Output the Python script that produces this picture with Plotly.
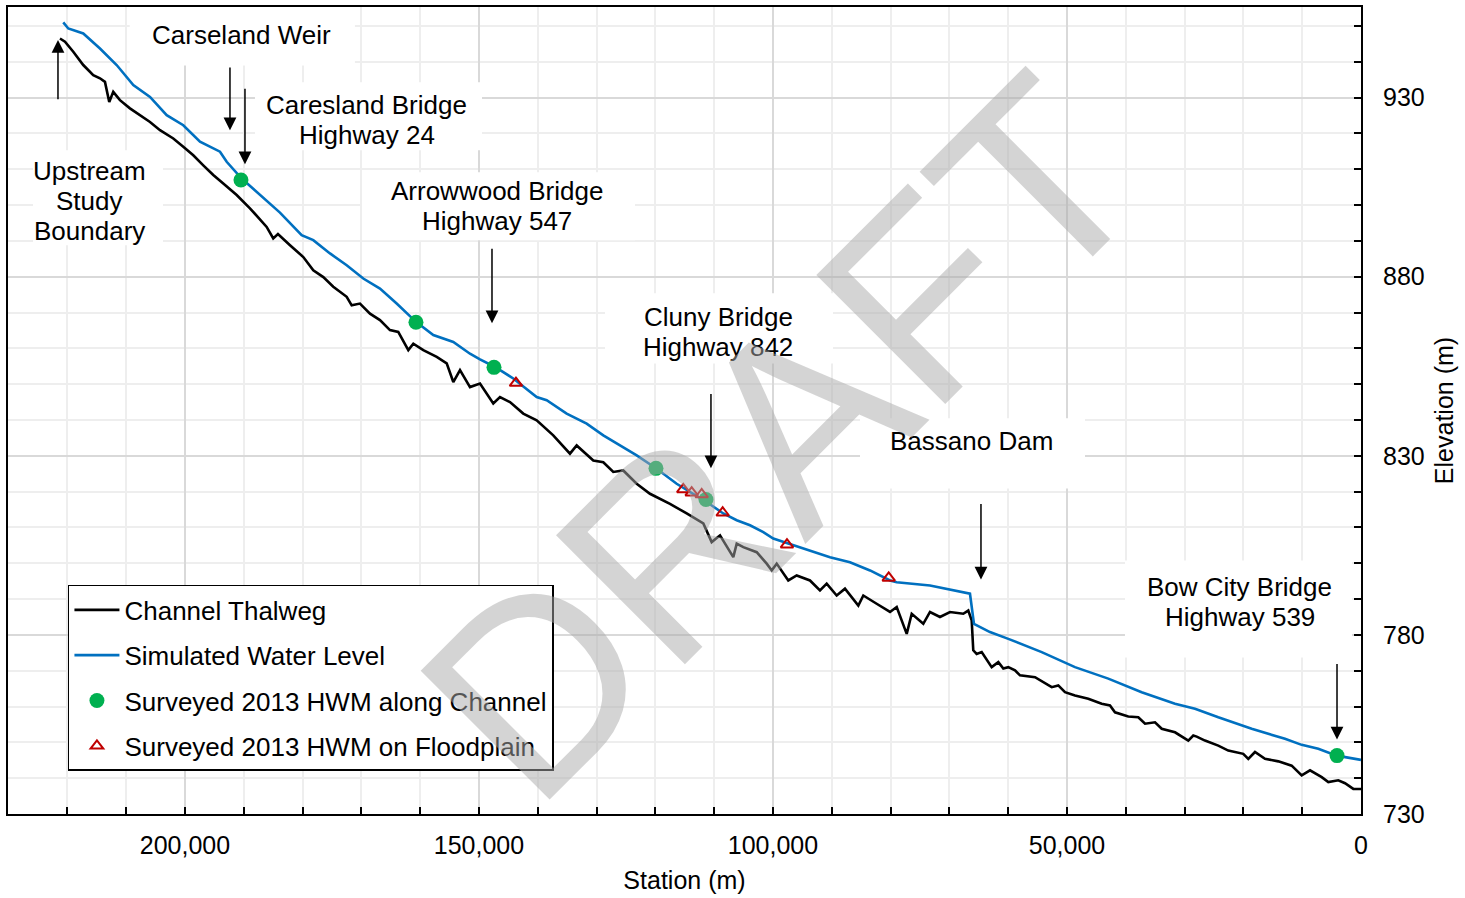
import plotly.graph_objects as go

# ---------------- data ----------------
# Simulated water level profile (station m, elevation m)
wl_station = [220700, 219850, 217300, 214460, 211620, 208790, 205950, 203110, 200290, 197450,
              194050, 192910, 190360, 187810, 183850, 180160, 178180, 175340, 172500, 169680,
              166840, 164000, 160720, 157770, 154370, 151530, 149830, 147280, 144170, 140190,
              138490, 135090, 131690, 128860, 126020, 123180, 119780, 116380, 111280, 108450,
              106170, 103910, 101650, 99950, 97400, 93710, 90310, 86910, 83500, 80100,
              78960, 73300, 68760, 66500, 65820, 63100, 59980, 54300, 48640, 42980,
              37300, 31630, 28230, 24270, 18590, 12930, 10090, 7260, 4130, 0]
wl_elev = [951.0, 949.3, 947.9, 943.7, 939.1, 933.5, 930.2, 925.1, 922.3, 917.7,
           914.9, 912.1, 907.4, 903.7, 897.9, 891.6, 890.2, 886.5, 883.2, 879.5,
           876.7, 872.5, 867.4, 863.7, 861.8, 858.5, 856.9, 854.8, 851.6, 846.4,
           845.5, 841.8, 839.0, 835.7, 832.9, 830.1, 826.4, 822.2, 817.1, 813.9,
           812.0, 810.6, 808.7, 806.9, 805.5, 803.6, 801.7, 800.3, 798.0, 795.2,
           794.7, 793.8, 792.4, 791.5, 783.1, 780.8, 778.9, 775.2, 771.0, 767.8,
           764.0, 760.8, 759.4, 757.0, 753.8, 751.0, 749.3, 748.2, 746.3, 745.1]

# Channel thalweg profile (station m, elevation m)
tw_station = [221260, 220410, 219000, 217300, 215600, 214460, 213610, 212880, 212200, 211060,
              209360, 207650, 205950, 204250, 201990, 200290, 198590, 196890, 195190, 193490,
              191210, 188950, 186110, 184990, 184190, 182140, 179880, 178180, 176480, 174780,
              172500, 171650, 170240, 168540, 166840, 165140, 163730, 162020, 161170, 159470,
              157190, 155490, 154370, 153230, 151530, 149830, 147570, 146430, 144730, 142470,
              140190, 137370, 134530, 133390, 130560, 128860, 127160, 125460, 123180, 120920,
              117520, 114680, 111850, 110430, 109010, 106750, 106170, 105050, 102770, 101070,
              100220, 99370, 97400, 95970, 93710, 92010, 90870, 89170, 87760, 85490,
              84640, 82370, 80100, 78960, 77260, 76410, 74440, 73300, 71600, 69900,
              67640, 66790, 66210, 65940, 65360, 64510, 62810, 61680, 60830, 59980,
              58840, 57990, 55440, 52600, 51480, 50340, 48640, 46380, 44100, 42690,
              41840, 39580, 37870, 36730, 35030, 33890, 31630, 29370, 28520, 27940,
              26530, 24270, 22570, 20020, 19170, 18030, 16330, 14060, 11790, 10090,
              8670, 6680, 5560, 3860, 2720, 1310, 0]
tw_elev = [946.5, 945.6, 942.8, 939.1, 936.3, 935.4, 934.4, 928.8, 931.6, 929.3,
           927.0, 925.1, 923.2, 920.9, 918.6, 916.3, 913.9, 911.1, 908.4, 906.0,
           902.8, 899.1, 893.9, 890.7, 891.9, 888.8, 885.5, 881.8, 879.9, 877.2,
           874.4, 872.0, 872.5, 869.7, 867.9, 865.1, 864.6, 859.5, 861.3, 859.5,
           857.6, 855.8, 850.6, 853.9, 849.2, 850.2, 844.6, 846.4, 845.0, 841.8,
           839.9, 835.7, 830.6, 832.9, 828.7, 828.2, 825.5, 825.9, 822.2, 819.4,
           816.6, 813.9, 811.1, 805.9, 807.8, 801.7, 805.5, 804.5, 803.1, 799.9,
           798.0, 799.9, 795.2, 796.6, 795.2, 792.4, 794.3, 791.0, 792.9, 788.2,
           791.0, 788.7, 786.4, 787.8, 780.3, 785.9, 783.1, 786.4, 785.0, 786.4,
           785.9, 786.8, 784.1, 775.7, 774.7, 775.2, 771.0, 772.4, 770.6, 771.0,
           770.1, 768.7, 768.2, 765.4, 765.9, 764.0, 763.1, 762.2, 760.8, 760.3,
           758.4, 757.2, 757.0, 755.2, 755.6, 753.8, 752.8, 750.5, 751.9, 751.6,
           750.5, 749.1, 747.7, 746.8, 745.4, 747.3, 745.4, 744.7, 743.5, 740.8,
           742.2, 740.3, 738.9, 739.4, 738.6, 737.0, 737.0]

# Surveyed 2013 high water marks
hwm_channel_station = [190480, 160720, 147450, 119900, 111400, 4080]
hwm_channel_elev = [907.0, 867.3, 854.7, 826.5, 817.8, 746.3]

hwm_flood_station = [143710, 115260, 113830, 112130, 108560, 97620, 80320]
hwm_flood_elev = [850.3, 820.6, 819.7, 819.2, 814.1, 805.2, 795.9]

# Structure labels: (text lines, station, elevation of label centre)
site_labels = [
    (["Carseland Weir"], 190310, 947.5),
    (["Caresland Bridge", "Highway 24"], 169050, 923.7),
    (["Upstream", "Study", "Boundary"], 216160, 901.1),
    (["Arrowwood Bridge", "Highway 547"], 146940, 899.7),
    (["Cluny Bridge", "Highway 842"], 109350, 864.5),
    (["Bassano Dam"], 66160, 834.1),
    (["Bow City Bridge", "Highway 539"], 20580, 789.1),
]
# white backing panels behind labels: (station0, station1, elev0, elev1)
label_panels = [
    (209400, 171100, 939.0, 955.3),
    (188100, 149490, 915.3, 934.3),
    (225850, 203740, 888.8, 915.3),
    (169900, 123470, 890.2, 909.2),
    (128570, 89800, 855.8, 875.4),
    (85200, 46940, 820.9, 840.5),
    (40140, 1530, 773.7, 800.8),
]
# Pointer arrows: (station, head elevation, tail elevation)
pointers = [
    (221600, 946.1, 929.1),
    (192350, 920.9, 938.8),
    (189800, 911.4, 932.9),
    (147790, 867.0, 888.2),
    (110550, 826.5, 847.7),
    (64630, 795.5, 817.0),
    (4080, 750.8, 772.3),
]

FONT = "Liberation Sans, Arial, sans-serif"
FS = 25          # tick / axis title size
FS_LABEL = 26    # annotation and legend size
LINE_STEP = 8.4  # elevation gap between label lines (m)

fig = go.Figure()
fig.add_trace(go.Scatter(x=tw_station, y=tw_elev, mode="lines", name="Channel Thalweg",
                         line=dict(color="black", width=2.6), legendgroup="a"))
fig.add_trace(go.Scatter(x=wl_station, y=wl_elev, mode="lines", name="Simulated Water Level",
                         line=dict(color="#0070C0", width=2.6), legendgroup="b"))
fig.add_trace(go.Scatter(x=hwm_channel_station, y=hwm_channel_elev, mode="markers",
                         name="Surveyed 2013 HWM along Channel",
                         marker=dict(symbol="circle", size=15, color="#00B050"), legendgroup="c"))
fig.add_trace(go.Scatter(x=hwm_flood_station, y=hwm_flood_elev, mode="markers",
                         name="Surveyed 2013 HWM on Floodplain",
                         marker=dict(symbol="triangle-up-open", size=11, color="#C00000",
                                     line=dict(width=2, color="#C00000")), legendgroup="d"))

shapes = []
for x0, x1, y0, y1 in label_panels:
    shapes.append(dict(type="rect", xref="x", yref="y", x0=x0, x1=x1, y0=y0, y1=y1,
                       fillcolor="white", line=dict(width=0), layer="between"))

annotations = []
for lines, sx, sy in site_labels:
    n = len(lines)
    for i, line in enumerate(lines):
        annotations.append(dict(x=sx, y=sy + ((n - 1) / 2 - i) * LINE_STEP,
                                xref="x", yref="y", text=line, showarrow=False,
                                font=dict(family=FONT, size=FS_LABEL, color="black"),
                                xanchor="center", yanchor="middle", align="center"))
for sx, head, tail in pointers:
    annotations.append(dict(x=sx, y=head, ax=sx, ay=tail, xref="x", yref="y",
                            axref="x", ayref="y", text="", showarrow=True,
                            arrowhead=2, arrowsize=1.7, arrowwidth=1.5, arrowcolor="black",
                            standoff=0))
# watermark
annotations.append(dict(x=0.5714, y=0.4659, xref="paper", yref="paper", text="DRAFT",
                        showarrow=False, textangle=-45,
                        font=dict(family=FONT, size=265, color="rgba(170,170,170,0.5)"),
                        xanchor="center", yanchor="middle"))

fig.update_layout(
    width=1465, height=898,
    margin=dict(l=8, r=104, t=7, b=84),
    paper_bgcolor="white", plot_bgcolor="white",
    font=dict(family=FONT, size=FS, color="black"),
    shapes=shapes, annotations=annotations,
    legend=dict(x=0.0443, y=0.2838, xanchor="left", yanchor="top",
                bgcolor="white", bordercolor="black", borderwidth=1.5,
                font=dict(family=FONT, size=FS_LABEL, color="black"),
                traceorder="grouped", tracegroupgap=8.5, itemwidth=45),
    xaxis=dict(range=[230100, 0], tick0=0, dtick=50000, tickformat=",d",
               ticks="inside", ticklen=7, tickwidth=1.5, tickcolor="black",
               showline=True, linecolor="black", linewidth=2, mirror=True,
               showgrid=True, gridcolor="#d9d9d9", gridwidth=2, zeroline=False,
               ticklabelstandoff=8,
               minor=dict(tick0=0, dtick=10000, ticks="inside", ticklen=7, tickwidth=1.5,
                          tickcolor="black", showgrid=True, gridcolor="#eeeeee", gridwidth=1.5),
               title=dict(text="Station (m)", standoff=13,
                          font=dict(family=FONT, size=FS, color="black")),
               automargin=False),
    yaxis=dict(range=[730, 955.3], side="right", tick0=730, dtick=50,
               ticks="inside", ticklen=7, tickwidth=1.5, tickcolor="black",
               showline=True, linecolor="black", linewidth=2, mirror=True,
               showgrid=True, gridcolor="#d9d9d9", gridwidth=2, zeroline=False,
               ticklabelstandoff=15,
               minor=dict(tick0=730, dtick=10, ticks="inside", ticklen=7, tickwidth=1.5,
                          tickcolor="black", showgrid=True, gridcolor="#eeeeee", gridwidth=1.5),
               title=dict(text="Elevation (m)", standoff=12,
                          font=dict(family=FONT, size=FS, color="black")),
               automargin=False),
)

fig.write_html("out.html")
